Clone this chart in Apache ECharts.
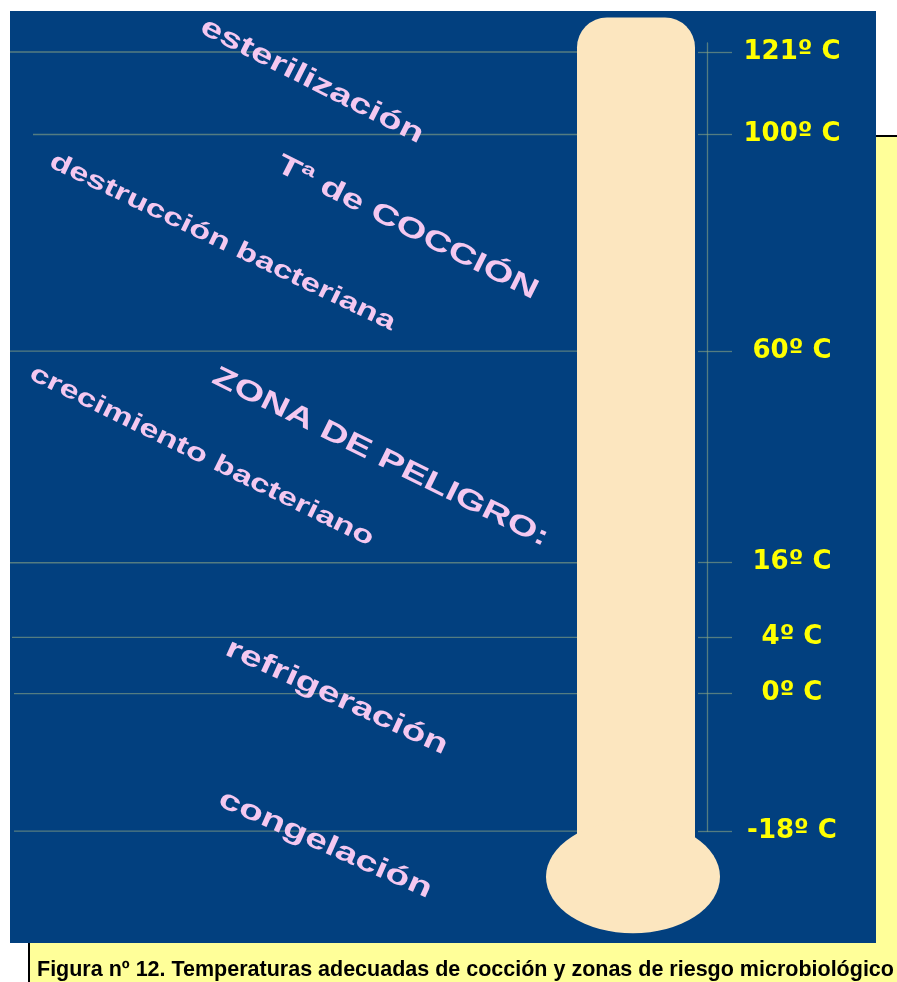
<!DOCTYPE html>
<html>
<head>
<meta charset="utf-8">
<script src="https://cdn.jsdelivr.net/npm/echarts@6/dist/echarts.min.js"></script>
<style>
html,body{margin:0;padding:0;background:#ffffff;}
#chart{width:897px;height:982px;}
</style>
</head>
<body>
<div id="chart"></div>
<script>
// ---------------- DATA ----------------
const tempValues = [121, 100, 60, 16, 4, 0, -18];
const tempLabels = ['121º C', '100º C', '60º C', '16º C', '4º C', '0º C', '-18º C'];
// height of each temperature mark on the (schematic) thermometer, % of the panel height
const scaleHeights = [95.6, 86.75, 63.5, 40.8, 32.8, 26.75, 12.0];
const zoneLabels = ['esterilización', 'Tª de COCCIÓN', 'destrucción bacteriana', 'ZONA DE PELIGRO:',
                    'crecimiento bacteriano', 'refrigeración', 'congelación'];
const captionText = 'Figura nº 12. Temperaturas adecuadas de cocción y zonas de riesgo microbiológico';
// thermometer extent on the same % scale: top of tube, centre of bulb
const thermoTop = 99.3;
const thermoBulb = 7.1;

// ---------------- LAYOUT / STYLE ----------------
const W = 897, H = 982;
const panel = {left: 10, top: 11, right: 876, bottom: 943};
const pxPerUnit = (panel.bottom - panel.top) / 100;
const blue = '#02407F';
const lineColor = 'rgba(140,165,130,0.6)';
const pink = '#F4C8F0';
const yellowText = '#FFFF00';
const thermoColor = '#FCE6BF';
const tube = {left: 577, right: 695, radius: 30};
const bulb = {cx: 633, rx: 87, ry: 56.5};
const lineStart = [10, 33, 10, 10, 12, 14, 14];
const axisX = 707, axisTopPx = 43;
const axisMin = Math.min.apply(null, scaleHeights);
const axisMax = (panel.bottom - axisTopPx) / pxPerUnit;
const axisBottomPx = panel.bottom - axisMin * pxPerUnit;

// placement of the slanted zone texts: [x, y, angleDeg, fontSize, scaleX]
const zonePlacement = [
  [202, 25, 26.9, 28, 1.39],
  [278, 163, 26.6, 28, 1.39],
  [51, 160, 25.6, 25, 1.39],
  [214, 375, 26.3, 28, 1.38],
  [31, 372, 26.2, 25, 1.39],
  [227, 647, 24.6, 28, 1.41],
  [220, 798, 23.9, 28, 1.41]
];

const chart = echarts.init(document.getElementById('chart'), null, {renderer: 'canvas', width: W, height: H});

function labelFor(v) {
  for (let i = 0; i < scaleHeights.length; i++) {
    if (Math.abs(scaleHeights[i] - v) < 1e-6) return tempLabels[i];
  }
  return '';
}

const graphicEls = [
  {
    type: 'rect', z: -10,
    shape: {x: 29, y: 136, width: W, height: H},
    style: {fill: '#FFFF99', stroke: '#000000', lineWidth: 2}
  },
  {
    type: 'text', z: 100, x: 37, y: 970,
    style: {text: captionText, fill: '#000000', font: 'bold 21.5px "Liberation Sans", Arial, sans-serif',
            align: 'left', verticalAlign: 'middle'}
  }
];
zoneLabels.forEach(function (t, i) {
  const p = zonePlacement[i];
  graphicEls.push({
    type: 'text', z: 100, x: p[0], y: p[1], rotation: -p[2] * Math.PI / 180, scaleX: p[4],
    style: {text: t, fill: pink, font: 'bold ' + p[3] + 'px "Liberation Sans", Arial, sans-serif',
            align: 'left', verticalAlign: 'middle'}
  });
});

const option = {
  backgroundColor: '#ffffff',
  animation: false,
  grid: [
    {left: panel.left, right: W - panel.right, top: panel.top, bottom: H - panel.bottom,
     show: true, backgroundColor: blue, borderWidth: 0},
    {left: axisX, right: W - panel.right, top: axisTopPx, bottom: H - axisBottomPx, show: false}
  ],
  xAxis: [
    {gridIndex: 0, type: 'value', min: 0, max: panel.right - panel.left, show: false},
    {gridIndex: 1, type: 'value', min: 0, max: 1, show: false}
  ],
  yAxis: [
    {gridIndex: 0, type: 'value', min: 0, max: 100, show: false},
    {gridIndex: 1, type: 'value', min: axisMin, max: axisMax, position: 'left',
     axisLine: {show: true, lineStyle: {color: lineColor, width: 1.3}},
     axisTick: {show: true, inside: true, length: 25, customValues: scaleHeights,
                lineStyle: {color: lineColor, width: 1.3}},
     axisLabel: {show: true, inside: true, customValues: scaleHeights, margin: 85, align: 'center',
                 formatter: labelFor, color: yellowText, fontFamily: 'DejaVu Sans', fontWeight: 'bold',
                 fontSize: 26},
     splitLine: {show: false}},
    {gridIndex: 1, type: 'value', min: axisMin, max: axisMax, position: 'left',
     axisLine: {show: false},
     axisTick: {show: true, inside: false, length: 9, customValues: scaleHeights,
                lineStyle: {color: lineColor, width: 1.3}},
     axisLabel: {show: false},
     splitLine: {show: false}}
  ],
  graphic: {elements: graphicEls},
  series: [
    {
      type: 'custom', name: 'niveles', xAxisIndex: 0, yAxisIndex: 0, silent: true,
      data: scaleHeights.map(function (h, i) { return [i, h]; }),
      renderItem: function (params, api) {
        const i = params.dataIndex;
        const a = api.coord([lineStart[i] - panel.left, api.value(1)]);
        const b = api.coord([tube.left - panel.left, api.value(1)]);
        return {type: 'line', shape: {x1: a[0], y1: a[1], x2: b[0], y2: b[1]},
                style: {stroke: lineColor, lineWidth: 1.3}};
      }
    },
    {
      type: 'custom', name: 'termómetro', xAxisIndex: 0, yAxisIndex: 0, silent: true, z: 3,
      data: [[thermoTop, thermoBulb]],
      renderItem: function (params, api) {
        const tl = api.coord([tube.left - panel.left, api.value(0)]);
        const br = api.coord([tube.right - panel.left, api.value(1)]);
        const c = api.coord([bulb.cx - panel.left, api.value(1)]);
        return {type: 'group', children: [
          {type: 'rect', shape: {x: tl[0], y: tl[1], width: br[0] - tl[0], height: br[1] - tl[1],
                                  r: [tube.radius, tube.radius, 0, 0]},
           style: {fill: thermoColor}},
          {type: 'circle', x: c[0], y: c[1], scaleX: bulb.rx / bulb.ry,
           shape: {cx: 0, cy: 0, r: bulb.ry}, style: {fill: thermoColor}}
        ]};
      }
    }
  ]
};
chart.setOption(option);
</script>
</body>
</html>
